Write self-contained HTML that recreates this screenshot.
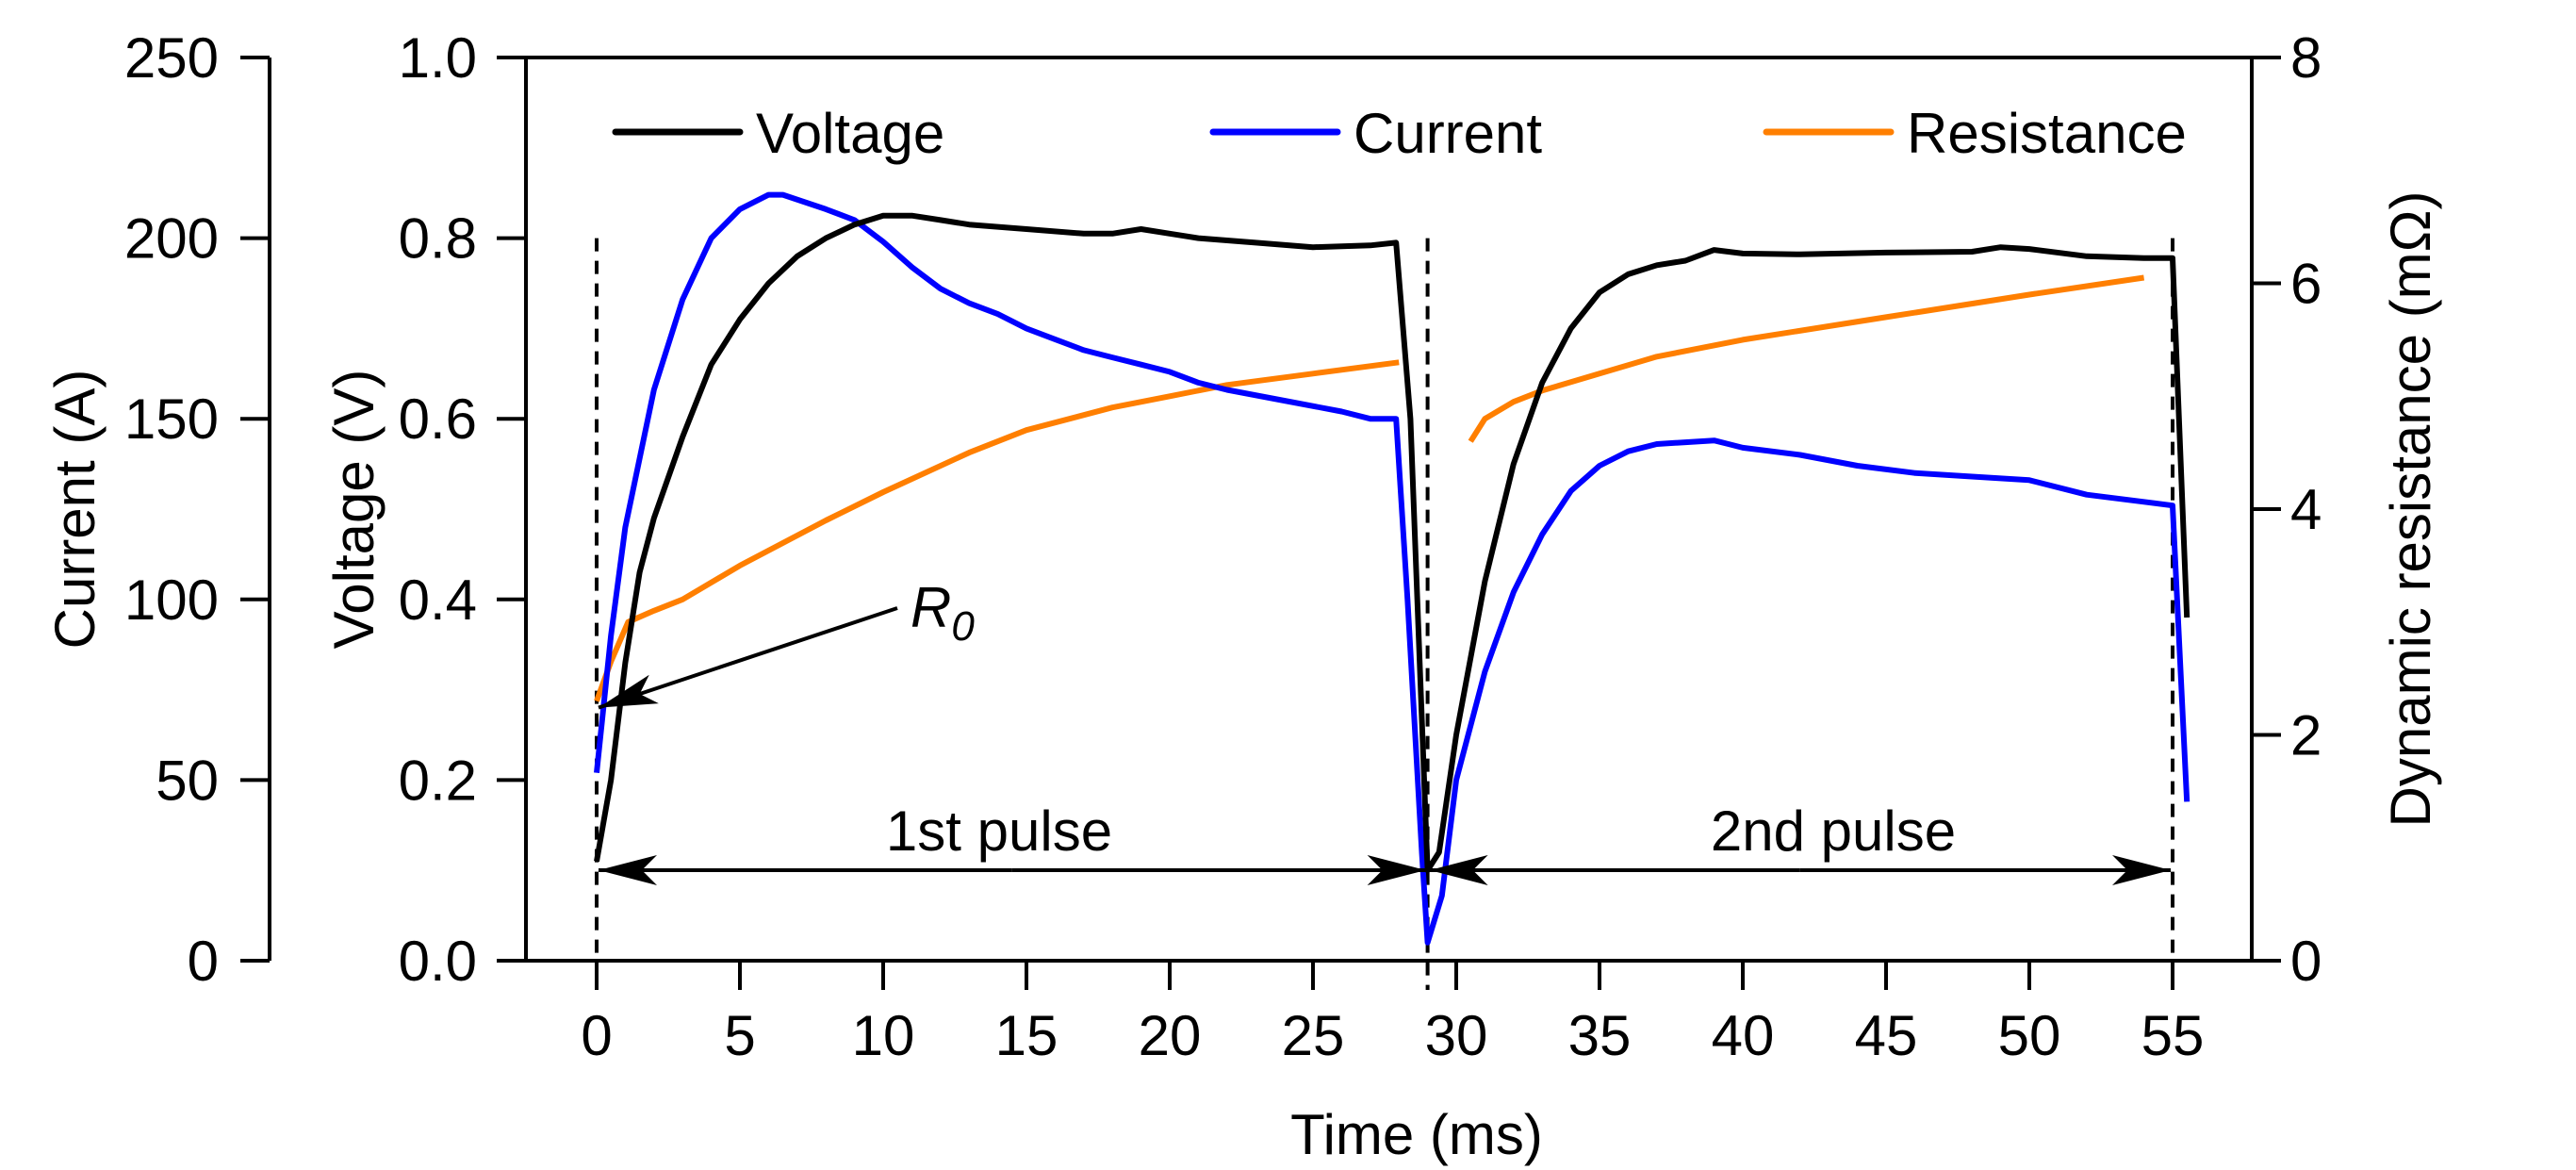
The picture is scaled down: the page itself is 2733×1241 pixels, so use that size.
<!DOCTYPE html>
<html><head><meta charset="utf-8">
<style>
html,body{margin:0;padding:0;background:#fff;}
svg{display:block;font-family:"Liberation Sans",Arial,sans-serif;}
</style></head>
<body>
<svg id="chart" width="2733" height="1241" viewBox="0 0 2733 1241" xmlns="http://www.w3.org/2000/svg">
<defs>
<marker id="ah" markerWidth="66" markerHeight="36" refX="62" refY="18" orient="auto" markerUnits="userSpaceOnUse">
<path d="M62,18 L0,2 L16,18 L0,34 Z" fill="#000"/>
</marker>
</defs>
<g id="axes"></g>
<g id="marks"></g>
</svg>
<script>
const timeV=[0,0.5,1,1.5,2,3,4,5,6,7,8,9,10,11,12,13,15,17,18,19,20,21,23,25,27,27.9,28.4,29,29.4,30,31,32,33,34,35,36,37,38,39,40,42,45,48,49,50,52,54,55,55.5];
const voltage=[0.11,0.2,0.33,0.43,0.49,0.58,0.66,0.71,0.75,0.78,0.80,0.815,0.825,0.825,0.82,0.815,0.81,0.805,0.805,0.81,0.805,0.8,0.795,0.79,0.792,0.795,0.6,0.1,0.12,0.25,0.42,0.55,0.64,0.7,0.74,0.76,0.77,0.775,0.787,0.783,0.782,0.784,0.785,0.79,0.788,0.78,0.778,0.778,0.38];
const timeI=[0,0.5,1,2,3,4,5,6,6.5,8,9,10,11,12,13,14,15,16,17,18,19,20,21,22,24,26,27,27.9,28.3,28.8,29,29.5,30,31,32,33,34,35,36,37,38,39,39.5,40,42,44,46,48,50,52,54,55,55.5];
const current=[52,90,120,158,183,200,208,212,212,208,205,199,192,186,182,179,175,172,169,167,165,163,160,158,155,152,150,150,100,30,5,18,50,80,102,118,130,137,141,143,143.5,144,143,142,140,137,135,134,133,129,127,126,44];
const timeR1=[0,0.5,1.1,2,3,5,8,10,13,15,18,20,22,25,28];
const resist1=[2.3,2.65,3.0,3.1,3.2,3.5,3.9,4.15,4.5,4.7,4.9,5.0,5.1,5.2,5.3];
const timeR2=[30.5,31,32,33,35,37,40,45,50,54];
const resist2=[4.6,4.8,4.95,5.05,5.2,5.35,5.5,5.7,5.9,6.05];
const xTicks=[0,5,10,15,20,25,30,35,40,45,50,55];
const vTicks=[0.0,0.2,0.4,0.6,0.8,1.0];
const iTicks=[0,50,100,150,200,250];
const rTicks=[0,2,4,6,8];
const pulseEdges=[0,29,55];

const L=558,R=2389,T=61,B=1019;
const X0=633,PX=30.4;
const xs=t=>X0+t*PX;
const yV=v=>B-v*(B-T);
const yI=i=>B-i/250*(B-T);
const yR=r=>B-r/8*(B-T);
const NS="http://www.w3.org/2000/svg";
const axes=document.getElementById('axes'),marks=document.getElementById('marks');
function mk(tag,attrs,parent){const e=document.createElementNS(NS,tag);for(const k in attrs)e.setAttribute(k,attrs[k]);parent.appendChild(e);return e;}
function txt(s,attrs,parent){const e=mk('text',attrs,parent);e.textContent=s;return e;}
const FS=60;
let e=mk('rect',{x:L,y:T,width:R-L,height:B-T,fill:'none',stroke:'#000','stroke-width':4},axes);


xTicks.forEach(t=>{
 let l=mk('line',{x1:xs(t),x2:xs(t),y1:B,y2:B+31,stroke:'#000','stroke-width':4},axes);
 
 
 let s=txt(String(t),{x:xs(t),y:1119,'font-size':FS,'text-anchor':'middle'},axes);
 
 
});
vTicks.forEach(v=>{
 let l=mk('line',{x1:L-31,x2:L,y1:yV(v),y2:yV(v),stroke:'#000','stroke-width':4},axes);
 
 
 let s=txt(v.toFixed(1),{x:506,y:yV(v)+21,'font-size':FS,'text-anchor':'end'},axes);
 
 
});
e=mk('line',{x1:286,x2:286,y1:T,y2:B,stroke:'#000','stroke-width':4},axes);


iTicks.forEach(i=>{
 let l=mk('line',{x1:255,x2:286,y1:yI(i),y2:yI(i),stroke:'#000','stroke-width':4},axes);
 
 
 let s=txt(String(i),{x:232,y:yI(i)+21,'font-size':FS,'text-anchor':'end'},axes);
 
 
});
rTicks.forEach(r=>{
 let l=mk('line',{x1:R,x2:R+31,y1:yR(r),y2:yR(r),stroke:'#000','stroke-width':4},axes);
 
 
 let s=txt(String(r),{x:2430,y:yR(r)+21,'font-size':FS,'text-anchor':'start'},axes);
 
 
});
e=txt('Time (ms)',{x:1503,y:1224,'font-size':FS,'text-anchor':'middle'},axes);


e=txt('Current (A)',{x:0,y:0,'font-size':FS,'text-anchor':'middle',transform:'translate(100,540) rotate(-90)'},axes);


e=txt('Voltage (V)',{x:0,y:0,'font-size':FS,'text-anchor':'middle',transform:'translate(396,540) rotate(-90)'},axes);


e=txt('Dynamic resistance (mΩ)',{x:0,y:0,'font-size':FS,'text-anchor':'middle',transform:'translate(2578,540) rotate(-90)'},axes);


pulseEdges.forEach(t=>{
 let l=mk('line',{x1:xs(t),x2:xs(t),y1:yV(0.8),y2:B+31,stroke:'#000','stroke-width':4,'stroke-dasharray':'14 10'},marks);
 
 
});
function poly(tx,ty,yf,color,name){
 const p=tx.map((t,i)=>xs(t).toFixed(1)+','+yf(ty[i]).toFixed(1)).join(' ');
 const el=mk('polyline',{points:p,fill:'none',stroke:color,'stroke-width':6,'stroke-linejoin':'round'},marks);
 
 
}
poly(timeR1,resist1,yR,'#ff7f00','resistance-line-pulse1');
poly(timeR2,resist2,yR,'#ff7f00','resistance-line-pulse2');
poly(timeI,current,yI,'#0000ff','current-line');
poly(timeV,voltage,yV,'#000000','voltage-line');
const ay=923;
function arrow(x1,x2,name){
 const el=mk('line',{x1:x1,y1:ay,x2:x2,y2:ay,stroke:'#000','stroke-width':4,'marker-end':'url(#ah)'},marks);
 
 
}
const mid1=(xs(0)+xs(29))/2, mid2=(xs(29)+xs(55))/2;
arrow(mid1,xs(0)+2,'pulse1-arrow-left');
arrow(mid1,xs(29)-2,'pulse1-arrow-right');
arrow(mid2,xs(29)+2,'pulse2-arrow-left');
arrow(mid2,xs(55)-2,'pulse2-arrow-right');
e=txt('1st pulse',{x:1060,y:902,'font-size':FS,'text-anchor':'middle'},marks);


e=txt('2nd pulse',{x:1945,y:902,'font-size':FS,'text-anchor':'middle'},marks);


e=mk('line',{x1:952,y1:645,x2:xs(0)+2,y2:yR(resist1[0])+7,stroke:'#000','stroke-width':4,'marker-end':'url(#ah)'},marks);


e=mk('text',{x:966,y:665,'font-size':FS,'font-style':'italic'},marks);
e.innerHTML='R<tspan font-size="44" dy="14">0</tspan>';


const leg=[['Voltage','#000',653],['Current','#0000ff',1287],['Resistance','#ff7f00',1874]];
leg.forEach(([lab,c,x])=>{
 const g=mk('g',{},marks);
 
 
 mk('line',{x1:x,x2:x+132,y1:140,y2:140,stroke:c,'stroke-width':7,'stroke-linecap':'round'},g);
 txt(lab,{x:x+149,y:162,'font-size':FS},g);
});
</script>
</body></html>
